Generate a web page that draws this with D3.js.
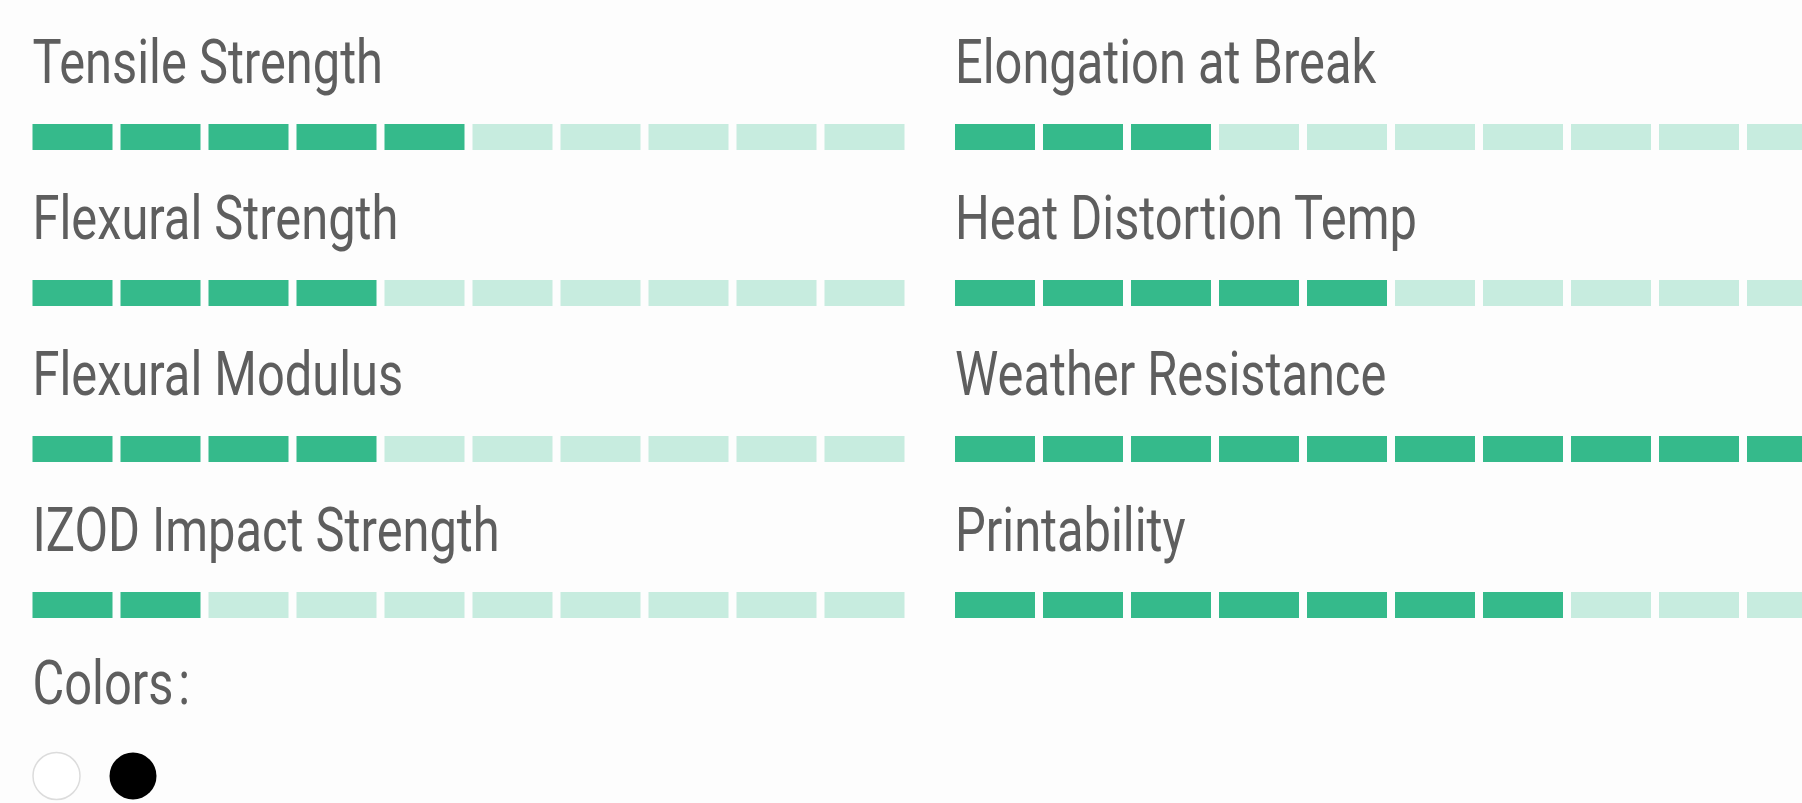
<!DOCTYPE html>
<html>
<head>
<meta charset="utf-8">
<script src="https://cdn.jsdelivr.net/npm/d3@7"></script>
<style>
  html, body { margin: 0; padding: 0; background: #fdfdfd; overflow: hidden; }
  svg { display: block; }
  text { font-family: Roboto, "Liberation Sans", sans-serif; font-weight: 400; }
</style>
</head>
<body>
<svg id="chart"></svg>
<script>
// property names, by column (left, right)
const leftProps = ['Tensile Strength', 'Flexural Strength', 'Flexural Modulus', 'IZOD Impact Strength']
const rightProps = ['Elongation at Break', 'Heat Distortion Temp', 'Weather Resistance', 'Printability']
// rating out of 10 for each property
const leftScores = [5, 4, 4, 2]
const rightScores = [3, 5, 10, 7]
const maxScore = 10
// colour swatches
const swatches = ['#ffffff', '#000000']

const width = 1802
const height = 803
const DARK = '#35ba8b'
const LIGHT = '#c7ecdf'
const TEXT_COLOR = '#5e5e5e'
const FONT_SIZE = 61
const SQUEEZE = 0.8 // narrow the face to look like the condensed original

const svg = d3.select('#chart').attr('width', width).attr('height', height)

svg.append('rect')
  .attr('width', width)
  .attr('height', height)
  .attr('fill', '#fdfdfd')

const rows = leftProps.map((name, i) => [
  { name, score: leftScores[i], col: 0, row: i },
  { name: rightProps[i], score: rightScores[i], col: 1, row: i },
]).flat()

// column left edges
const colX = d3.scaleOrdinal().domain([0, 1]).range([32.5, 955])
// bar top for each row
const rowY = d3.scaleLinear().domain([0, 1]).range([124, 280])
// segments inside a meter
const seg = d3.scaleBand()
  .domain(d3.range(maxScore))
  .range([0, 872])
  .paddingInner(8 / 88)
  .paddingOuter(0)

const item = svg.selectAll('g.meter')
  .data(rows)
  .join('g')
  .attr('class', 'meter')
  .attr('transform', (d) => `translate(${colX(d.col)},${rowY(d.row)})`)

// Property label
item.append('text')
  .attr('transform', `translate(0,-41) scale(${SQUEEZE},1)`)
  .style('font-size', FONT_SIZE + 'px')
  .style('fill', TEXT_COLOR)
  .text((d) => d.name)

// Segments
item.selectAll('rect')
  .data((d) => d3.range(maxScore).map((k) => ({ k, on: k < d.score })))
  .join('rect')
  .attr('x', (s) => seg(s.k))
  .attr('y', 0)
  .attr('width', seg.bandwidth())
  .attr('height', 26)
  .attr('fill', (s) => (s.on ? DARK : LIGHT))

// Colours
const colorY = rowY(leftProps.length) - 44
const colorLabel = svg.append('text')
  .attr('transform', `translate(32.5,${colorY}) scale(${SQUEEZE},1)`)
  .style('font-size', FONT_SIZE + 'px')
  .style('fill', TEXT_COLOR)
colorLabel.append('tspan').text('Colors')
colorLabel.append('tspan').attr('dx', 6).text(':')

const swatchX = d3.scalePoint().domain(d3.range(swatches.length)).range([56.5, 133])

svg.selectAll('circle.swatch')
  .data(swatches)
  .join('circle')
  .attr('class', 'swatch')
  .attr('cx', (d, i) => swatchX(i))
  .attr('cy', 776)
  .attr('r', 23.5)
  .attr('fill', (d) => d)
  .attr('stroke', (d) => (d === '#ffffff' ? '#dcdcdc' : 'none'))
  .attr('stroke-width', 1.5)
</script>
</body>
</html>
